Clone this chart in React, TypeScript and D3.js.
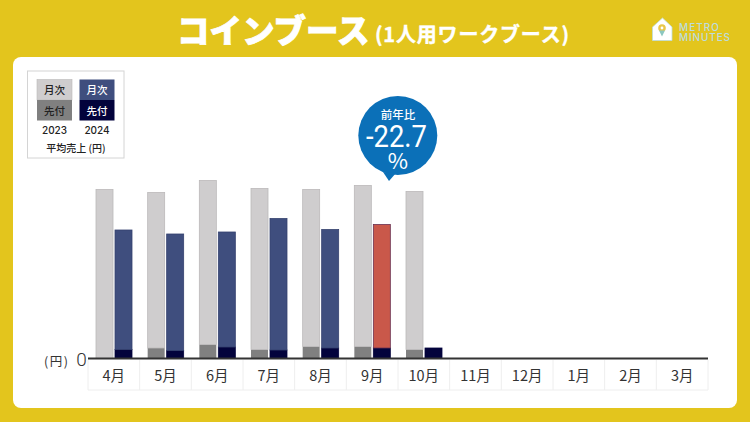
import React from "react";
import * as d3 from "d3";

const months = ["4月", "5月", "6月", "7月", "8月", "9月", "10月", "11月", "12月", "1月", "2月", "3月"];
// no scale is printed in the source, the values are bar heights read off the picture
const monthly2023 = [169, 155.5, 164, 161, 157, 161, 158];
const advance2023 = [0, 10.5, 14, 9, 12, 12, 9];
const monthly2024 = [119.5, 116.5, 115, 131.5, 118.5, 123.5, 0];
const advance2024 = [9, 8, 11.5, 8.5, 10.5, 10.5, 10.5];
const highlightMonth = "9月";

const FONT = '"Noto Sans CJK JP", "Noto Sans", sans-serif';
const YELLOW = "#e3c51d";
const LIGHT_GRAY = "#cfcdce";
const DARK_GRAY = "#808080";
const NAVY = "#3f4e7e";
const DARK_NAVY = "#03033c";
const RED = "#c9584a";
const BLUE = "#0b70b8";
const LOGO = "#bcdcdc";

const baseY = 358.5;
const x0 = d3.scaleBand<string>().domain(months).range([88, 708]);
const x1 = d3.scaleBand<string>().domain(["2023", "2024"]).range([8, 44]).paddingInner(0.105);
const y = d3.scaleLinear().domain([0, 170]).range([baseY, baseY - 170]);

const Bars = ({ year, monthly, advance }: { year: string; monthly: number[]; advance: number[] }) => {
  const stack = monthly.map((m, i) => ({ month: months[i], advance: advance[i], monthly: m }));
  const series = d3.stack<{ month: string; advance: number; monthly: number }>().keys(["advance", "monthly"])(stack as never);
  const w = x1.bandwidth();
  return (
    <g>
      {series.map((s) =>
        s.map((d) => {
          const month = (d.data as { month: string }).month;
          const h = y(d[0]) - y(d[1]);
          if (h <= 0) return null;
          let fill = s.key === "advance" ? DARK_GRAY : LIGHT_GRAY;
          let stroke = "#bbb9ba";
          if (year === "2024") {
            fill = s.key === "advance" ? DARK_NAVY : month === highlightMonth ? RED : NAVY;
            stroke = DARK_NAVY;
            if (s.key === "monthly") stroke = month === highlightMonth ? "#6a3050" : "#36426f";
          }
          return (
            <rect
              key={s.key + month}
              x={x0(month)! + x1(year)!}
              y={y(d[1])}
              width={w}
              height={h}
              fill={fill}
              stroke={s.key === "advance" && year === "2023" ? "none" : stroke}
              strokeWidth={0.8}
            />
          );
        })
      )}
    </g>
  );
};

const Legend = () => (
  <g fontFamily={FONT} textAnchor="middle">
    <rect x={27.5} y={71} width={96.5} height={87} fill="#fff" stroke="#d4d4d4" strokeWidth={1} />
    <rect x={37} y={79.5} width={35} height={20.5} fill={LIGHT_GRAY} stroke="#bbb9ba" strokeWidth={0.6} />
    <rect x={37} y={100} width={35} height={20.5} fill={DARK_GRAY} />
    <rect x={79.5} y={79.5} width={35} height={20.5} fill={NAVY} />
    <rect x={79.5} y={100} width={35} height={20.5} fill={DARK_NAVY} />
    <text x={54.5} y={94} fontSize={10.5} fontWeight={500} fill="#222">月次</text>
    <text x={54.5} y={115} fontSize={10.5} fontWeight={500} fill="#222">先付</text>
    <text x={97} y={94} fontSize={10.5} fontWeight={500} fill="#fff">月次</text>
    <text x={97} y={115} fontSize={10.5} fontWeight={500} fill="#fff">先付</text>
    <text x={54.5} y={134} fontSize={10} fontFamily="Inter, sans-serif" fontWeight={500} fill="#222">2023</text>
    <text x={97} y={134} fontSize={10} fontFamily="Inter, sans-serif" fontWeight={500} fill="#222">2024</text>
    <text x={76} y={152} fontSize={10} fontWeight={500} fill="#222">平均売上 (円)</text>
  </g>
);

const Logo = () => (
  <g>
    <path d="M652.5 27 L662.5 18 L672 27 V40.5 H652.5 Z" fill="#fff" stroke={LOGO} strokeWidth={0.8} strokeLinejoin="round" />
    <circle cx={662} cy={28} r={3.8} fill="#e9c74a" />
    <path d="M659 30.5 L662 36.5 L665 30.5 Z" fill="#8cc7c0" />
    <circle cx={662} cy={28} r={1.4} fill="#fff" />
    <g fontFamily="Inter, sans-serif" fontSize={10} fontWeight={500} fill={LOGO}>
      <text x={679} y={30.5} textLength={40}>METRO</text>
      <text x={679} y={41} textLength={51}>MINUTES</text>
    </g>
  </g>
);

const Bubble = () => (
  <g fontFamily={FONT} textAnchor="middle" fill="#fff">
    <circle cx={397.8} cy={135.5} r={39.5} fill={BLUE} />
    <path d="M383 172 L389 181 L396 173 Z" fill={BLUE} />
    <text x={398} y={119} fontSize={11.5} fontWeight={500}>前年比</text>
    <text x={366} y={147} textAnchor="start" fontSize={31} fontFamily="Roboto, sans-serif" textLength={61} lengthAdjust="spacingAndGlyphs">-22.7</text>
    <text x={398} y={168.5} fontSize={22} fontFamily={FONT}>%</text>
  </g>
);

export default function App() {
  const step = x0.step();
  return (
    <svg width={750} height={422} viewBox="0 0 750 422" style={{ position: "absolute", left: 0, top: 0 }}>
      <rect width={750} height={422} fill={YELLOW} />
      <rect x={13} y={57} width={724} height={351} rx={8} fill="#fff" />

      <g fontFamily={FONT} fontWeight={900} fill="#fff" stroke="#fff">
        <text x={177} y={43} fontSize={32.5} strokeWidth={0.8}>コインブース</text>
        <text x={375} y={42} fontSize={20} fontWeight={700} strokeWidth={0.4} textLength={194}>(1人用ワークブース)</text>
      </g>
      <Logo />
      <Legend />

      {months.map((m) => (
        <g key={m}>
          <line x1={x0(m)! + step} x2={x0(m)! + step} y1={360} y2={390} stroke="#eeeeee" />
          <text x={x0(m)! + step / 2} y={380.5} textAnchor="middle" fontFamily={FONT} fontSize={14.5} fill="#333">{m}</text>
        </g>
      ))}
      <line x1={88} x2={88} y1={360} y2={390} stroke="#eeeeee" />
      <line x1={88} x2={708} y1={390} y2={390} stroke="#eeeeee" />

      <Bars year="2023" monthly={monthly2023} advance={advance2023} />
      <Bars year="2024" monthly={monthly2024} advance={advance2024} />

      <line x1={88} x2={708} y1={y(0)} y2={y(0)} stroke="#333" strokeWidth={2} />
      <text x={81.5} y={366} textAnchor="middle" fontFamily="Roboto, sans-serif" fontWeight={300} fontSize={19} fill="#333">0</text>
      <text x={44} y={365.5} fontFamily={FONT} fontSize={12.5} fill="#333" textLength={24}>(円)</text>

      <Bubble />
    </svg>
  );
}
